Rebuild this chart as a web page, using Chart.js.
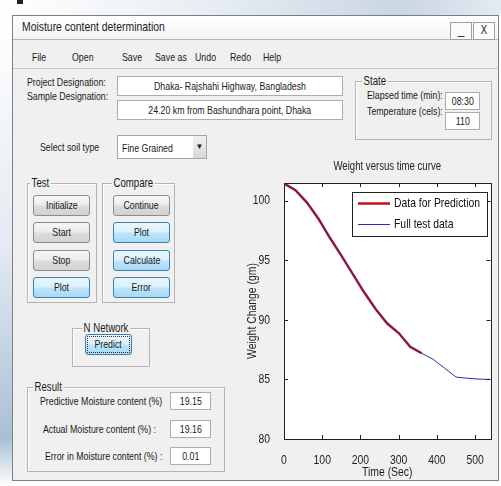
<!DOCTYPE html>
<html>
<head>
<meta charset="utf-8">
<script src="https://cdn.jsdelivr.net/npm/chart.js@4.4.1/dist/chart.umd.min.js"></script>
<style>
  body { margin: 0; width: 501px; height: 486px; overflow: hidden; background: #fff; position: relative;
         font-family: 'Liberation Sans', Arial, sans-serif; font-size: 11px; color: #1a1a1a; }
  .abs { position: absolute; }
  .t { display: inline-block; transform: scaleX(0.8); transform-origin: left center; white-space: nowrap; }
  .tc { display: inline-block; transform: scaleX(0.8); transform-origin: center center; white-space: nowrap; }
  .top { left: 0; top: 0; width: 501px; height: 15px; background: linear-gradient(90deg, #fff 0%, #e9eef4 40%, #c9d6e3 80%, #e4eaf1 100%); }
  .strip { left: 0; top: 15px; width: 12px; height: 471px; background: linear-gradient(180deg, #fff 0%, #e3eaf2 50%, #a9bfd6 90%, #fff 100%); }
  .win { left: 12px; top: 15px; width: 485px; height: 464px; background: #f0f0f0; border: 1px solid #7b7f85; }
  .tbar { left: 13px; top: 16px; width: 485px; height: 23px; background: linear-gradient(#ffffff, #f3f4f6); border-bottom: 1px solid #b5b9be; }
  .ttl { left: 22px; top: 17px; font-size: 13px; line-height: 20px; }
  .wbtn { top: 22px; height: 16px; width: 20px; border: 1px solid #9aa0a6; background: #fbfbfb; text-align: center; font-size: 12px; line-height: 15px; }
  .menu { left: 13px; top: 40px; width: 485px; height: 28px; border-bottom: 1px solid #c9c9c9; }
  .mi { top: 51px; font-size: 11px; line-height: 12px; }
  .lbl { font-size: 11px; line-height: 12px; white-space: nowrap; }
  .box { background: #fff; border: 1px solid #abadb3; text-align: center; font-size: 11px; box-sizing: border-box; white-space: nowrap; }
  .grp { border: 1px solid #b4b4b4; box-shadow: 1px 1px 0 #fff inset; box-sizing: border-box; }
  .gl { font-size: 12px; line-height: 12px; }
  .gl .t { background: #f0f0f0; padding: 0 2px; }
  .btn { box-sizing: border-box; border: 1px solid #8b8c8e; border-radius: 3px; text-align: center; font-size: 11px;
         background: linear-gradient(#f7f7f7, #ebebeb 48%, #dcdcdc 52%, #d2d2d2); }
  .blue { border-color: #3c7fb1; background: linear-gradient(#eaf6fd, #d9f0fc 48%, #bee6fd 52%, #a7d9f5); }
</style>
</head>
<body>
<div class="abs top"></div>
<div class="abs" style="left:17px;top:0;width:6px;height:4px;background:#222"></div>
<div class="abs strip"></div>
<div class="abs win"></div>
<div class="abs tbar"></div>
<div class="abs ttl"><span class="t">Moisture content determination</span></div>
<div class="abs wbtn" style="left:450px">_</div>
<div class="abs wbtn" style="left:473px"><span class="tc">X</span></div>
<div class="abs menu"></div>
<div class="abs mi" style="left:32px"><span class="t">File</span></div>
<div class="abs mi" style="left:72px"><span class="t">Open</span></div>
<div class="abs mi" style="left:122px"><span class="t">Save</span></div>
<div class="abs mi" style="left:155px"><span class="t">Save as</span></div>
<div class="abs mi" style="left:195px"><span class="t">Undo</span></div>
<div class="abs mi" style="left:230px"><span class="t">Redo</span></div>
<div class="abs mi" style="left:263px"><span class="t">Help</span></div>

<div class="abs lbl" style="left:27px;top:76px"><span class="t">Project Designation:</span></div>
<div class="abs lbl" style="left:27px;top:90px"><span class="t">Sample Designation:</span></div>
<div class="abs box" style="left:117px;top:76px;width:226px;height:20px;line-height:18px"><span class="tc">Dhaka- Rajshahi Highway, Bangladesh</span></div>
<div class="abs box" style="left:117px;top:100px;width:226px;height:20px;line-height:18px"><span class="tc">24.20 km from Bashundhara point, Dhaka</span></div>

<div class="abs grp" style="left:355px;top:81px;width:137px;height:59px"></div>
<div class="abs gl" style="left:362px;top:75px"><span class="t">State</span></div>
<div class="abs lbl" style="left:367px;top:89px"><span class="t">Elapsed time (min):</span></div>
<div class="abs lbl" style="left:367px;top:105px"><span class="t">Temperature (cels):</span></div>
<div class="abs box" style="left:445px;top:92px;width:35px;height:18px;line-height:17px"><span class="tc">08:30</span></div>
<div class="abs box" style="left:445px;top:112px;width:35px;height:18px;line-height:17px"><span class="tc">110</span></div>

<div class="abs lbl" style="left:40px;top:141px"><span class="t">Select soil type</span></div>
<div class="abs box" style="left:117px;top:135px;width:90px;height:24px;text-align:left;padding-left:4px;line-height:24px;border-color:#a5a5a5"><span class="t">Fine Grained</span></div>
<div class="abs" style="left:193px;top:136px;width:13px;height:22px;background:linear-gradient(#f2f2f2,#d8d8d8);font-size:8px;line-height:22px;text-align:center">&#9660;</div>

<div class="abs grp" style="left:27px;top:183px;width:70px;height:120px"></div>
<div class="abs gl" style="left:30px;top:177px"><span class="t">Test</span></div>
<div class="abs btn" style="left:33px;top:195px;width:57px;height:21px;line-height:19px"><span class="tc">Initialize</span></div>
<div class="abs btn" style="left:33px;top:222px;width:57px;height:21px;line-height:19px"><span class="tc">Start</span></div>
<div class="abs btn" style="left:33px;top:250px;width:57px;height:21px;line-height:19px"><span class="tc">Stop</span></div>
<div class="abs btn blue" style="left:33px;top:277px;width:57px;height:21px;line-height:19px"><span class="tc">Plot</span></div>

<div class="abs grp" style="left:102px;top:183px;width:73px;height:120px"></div>
<div class="abs gl" style="left:112px;top:177px"><span class="t">Compare</span></div>
<div class="abs btn" style="left:113px;top:195px;width:57px;height:21px;line-height:19px"><span class="tc">Continue</span></div>
<div class="abs btn blue" style="left:113px;top:222px;width:57px;height:21px;line-height:19px"><span class="tc">Plot</span></div>
<div class="abs btn blue" style="left:113px;top:250px;width:57px;height:21px;line-height:19px"><span class="tc">Calculate</span></div>
<div class="abs btn blue" style="left:113px;top:277px;width:57px;height:21px;line-height:19px"><span class="tc">Error</span></div>

<div class="abs grp" style="left:72px;top:328px;width:78px;height:39px"></div>
<div class="abs gl" style="left:82px;top:322px"><span class="t">N Network</span></div>
<div class="abs btn blue" style="left:85px;top:334px;width:47px;height:21px;line-height:19px;outline:1px dotted #333;outline-offset:-3px"><span class="tc">Predict</span></div>

<div class="abs grp" style="left:27px;top:387px;width:198px;height:85px"></div>
<div class="abs gl" style="left:33px;top:381px"><span class="t">Result</span></div>
<div class="abs lbl" style="left:40px;top:395px"><span class="t">Predictive Moisture content (%)</span></div>
<div class="abs lbl" style="left:43px;top:423px"><span class="t">Actual Moisture content (%) :</span></div>
<div class="abs lbl" style="left:45px;top:450px"><span class="t">Error in Moisture content (%) :</span></div>
<div class="abs box" style="left:170px;top:392px;width:41px;height:18px;line-height:17px"><span class="tc">19.15</span></div>
<div class="abs box" style="left:170px;top:420px;width:41px;height:18px;line-height:17px"><span class="tc">19.16</span></div>
<div class="abs box" style="left:170px;top:447px;width:41px;height:18px;line-height:17px"><span class="tc">0.01</span></div>

<canvas id="weightChart" class="abs" width="271" height="331" style="left:230px;top:155px"></canvas>

<script>
// readings taken off the curve, time in seconds, weight in grams
const timeSec = [0, 30, 60, 90, 120, 150, 180, 210, 240, 270, 300, 330, 360, 390, 420, 450, 480, 510, 540]
const fullWeight = [101.46, 100.9, 99.85, 98.5, 96.9, 95.4, 93.85, 92.3, 90.9, 89.7, 88.9, 87.75, 87.2, 86.69, 85.95, 85.2, 85.1, 85.03, 85.0]
const predTime = [0, 30, 60, 90, 120, 150, 180, 210, 240, 270, 300, 330, 360]
const predWeight = [101.46, 100.9, 99.85, 98.5, 96.9, 95.4, 93.85, 92.3, 90.9, 89.7, 88.9, 87.75, 87.2]
const xTicks = [0, 100, 200, 300, 400, 500]
const yTicks = [80, 85, 90, 95, 100]
const seriesNames = ['Data for Prediction', 'Full test data']

const font = "'Liberation Sans', Arial, sans-serif"
const canvas = document.getElementById('weightChart')

// the screenshot text is squeezed sideways, so draw chart text narrower
const squeeze = 0.8
const ctx2d = canvas.getContext('2d')
const plainFillText = ctx2d.fillText
ctx2d.fillText = function (text, x, y, maxWidth) {
	this.save()
	this.translate(x, y)
	this.scale(squeeze, 1)
	if (maxWidth === undefined) plainFillText.call(this, text, 0, 0)
	else plainFillText.call(this, text, 0, 0, maxWidth / squeeze)
	this.restore()
}

// white axes, black box and matlab style inward ticks, legend inside
const axesBox = {
	id: 'axesBox',
	beforeDatasetsDraw(chart) {
		const { ctx, chartArea: a } = chart
		ctx.save()
		ctx.fillStyle = '#fff'
		ctx.fillRect(a.left, a.top, a.right - a.left, a.bottom - a.top)
		ctx.restore()
	},
	afterDatasetsDraw(chart) {
		const { ctx, chartArea: a, scales } = chart
		ctx.save()
		ctx.strokeStyle = '#222'
		ctx.lineWidth = 1
		ctx.beginPath()
		xTicks.forEach((t) => {
			const px = Math.round(scales.x.getPixelForValue(t)) + 0.5
			ctx.moveTo(px, a.bottom); ctx.lineTo(px, a.bottom - 4)
			ctx.moveTo(px, a.top); ctx.lineTo(px, a.top + 4)
		})
		yTicks.forEach((t) => {
			const py = Math.round(scales.y.getPixelForValue(t)) + 0.5
			ctx.moveTo(a.left, py); ctx.lineTo(a.left + 4, py)
			ctx.moveTo(a.right, py); ctx.lineTo(a.right - 4, py)
		})
		ctx.stroke()
		ctx.strokeRect(Math.round(a.left) + 0.5, Math.round(a.top) + 0.5, Math.round(a.right - a.left), Math.round(a.bottom - a.top))

		const lx = Math.round(a.right) - 139, ly = Math.round(a.top) + 9, lw = 135, lh = 44
		ctx.fillStyle = '#fff'
		ctx.fillRect(lx, ly, lw, lh)
		ctx.strokeRect(lx + 0.5, ly + 0.5, lw, lh)
		ctx.font = '13px ' + font
		ctx.textBaseline = 'middle'
		chart.data.datasets.forEach((ds, i) => {
			const y = ly + 11 + i * 21 + 0.5
			ctx.strokeStyle = ds.borderColor
			ctx.lineWidth = ds.borderWidth
			ctx.beginPath(); ctx.moveTo(lx + 6, y); ctx.lineTo(lx + 38, y); ctx.stroke()
			ctx.fillStyle = '#111'
			ctx.fillText(ds.label, lx + 42, y)
		})
		ctx.restore()
	},
}

new Chart(canvas, {
	type: 'line',
	data: {
		datasets: [
			{
				label: seriesNames[0],
				data: predTime.map((t, i) => ({ x: t, y: predWeight[i] })),
				borderColor: '#c4101c',
				borderWidth: 2.5,
				pointRadius: 0,
				order: 2,
			},
			{
				label: seriesNames[1],
				data: timeSec.map((t, i) => ({ x: t, y: fullWeight[i] })),
				borderColor: '#2a2ab0',
				borderWidth: 1,
				pointRadius: 0,
				order: 1,
			},
		],
	},
	plugins: [axesBox],
	options: {
		responsive: false,
		animation: false,
		devicePixelRatio: 1,
		layout: { padding: { left: 0, right: 10.5, top: 0, bottom: 0 } },
		plugins: {
			legend: { display: false },
			tooltip: { enabled: false },
			title: {
				display: true,
				fullSize: false,
				text: 'Weight versus time curve',
				color: '#222',
				font: { family: font, size: 12, weight: 'normal', lineHeight: 1.2 },
				padding: { top: 4.8, bottom: 8.8 },
			},
		},
		scales: {
			x: {
				type: 'linear',
				min: 0,
				max: 540,
				afterFit: (s) => { s.height = 47 },
				grid: { display: false },
				border: { display: false },
				ticks: { stepSize: 100, includeBounds: false, padding: 6, color: '#222', font: { family: font, size: 13 }, maxRotation: 0 },
				title: { display: true, text: 'Time (Sec)', color: '#222', font: { family: font, size: 13, lineHeight: 1.2 }, padding: { top: 0, bottom: 6.2 } },
			},
			y: {
				min: 80,
				max: 101.5,
				afterFit: (s) => { s.width = 54 },
				grid: { display: false },
				border: { display: false },
				ticks: { stepSize: 5, includeBounds: false, padding: 6, color: '#222', font: { family: font, size: 13 } },
				title: { display: true, text: 'Weight Change (gm)', color: '#222', font: { family: font, size: 13, lineHeight: 1.2 }, padding: { top: 14.2, bottom: 0 } },
			},
		},
	},
})
</script>
</body>
</html>
